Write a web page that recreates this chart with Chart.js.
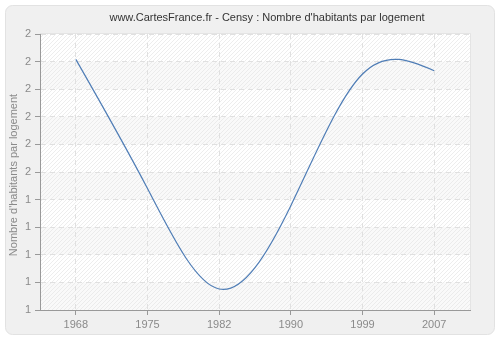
<!DOCTYPE html>
<html>
<head>
<meta charset="utf-8">
<script src="https://cdn.jsdelivr.net/npm/chart.js@4/dist/chart.umd.min.js"></script>
<style>
html,body{margin:0;padding:0;background:#fff;}
#wrap{width:500px;height:340px;}
</style>
</head>
<body>
<div id="wrap"><canvas id="c" width="500" height="340"></canvas></div>
<script>
const titleText = "www.CartesFrance.fr - Censy : Nombre d'habitants par logement";
const yAxisTitle = "Nombre d'habitants par logement";
const years = ["1968", "1975", "1982", "1990", "1999", "2007"];
const habitantsParLogement = [1.908, 1.440, 1.076, 1.378, 1.855, 1.867];
const yMin = 1, yMax = 2, yStep = 0.1;

const FONT = '"Liberation Sans", Arial, sans-serif';

const bgPlugin = {
  id: 'bg',
  beforeDraw(chart) {
    const ctx = chart.ctx, a = chart.chartArea;
    ctx.save();
    ctx.fillStyle = '#ffffff';
    ctx.fillRect(0, 0, chart.width, chart.height);
    const x = 5.5, y = 5.5, w = 489, h = 329, r = 7;
    ctx.beginPath();
    ctx.moveTo(x + r, y);
    ctx.arcTo(x + w, y, x + w, y + h, r);
    ctx.arcTo(x + w, y + h, x, y + h, r);
    ctx.arcTo(x, y + h, x, y, r);
    ctx.arcTo(x, y, x + w, y, r);
    ctx.closePath();
    ctx.fillStyle = '#f0f0f0';
    ctx.fill();
    ctx.strokeStyle = '#e2e2e2';
    ctx.lineWidth = 1;
    ctx.stroke();
    ctx.fillStyle = '#ffffff';
    ctx.fillRect(a.left, a.top, a.right - a.left, a.bottom - a.top);
    const ys = chart.scales.y;
    for (let i = 0; i < 10; i++) {
      if (i % 2 === 1) {
        const t = ys.getPixelForValue(yMax - i * yStep);
        const b = ys.getPixelForValue(yMax - (i + 1) * yStep);
        ctx.fillStyle = '#f9f9f9';
        ctx.fillRect(a.left, t, a.right - a.left, b - t);
      }
    }
    ctx.beginPath();
    ctx.rect(a.left, a.top, a.right - a.left, a.bottom - a.top);
    ctx.clip();
    ctx.strokeStyle = 'rgba(225,225,225,0.6)';
    ctx.lineWidth = 1;
    ctx.beginPath();
    const H = a.bottom - a.top;
    for (let s = a.left - H; s < a.right + H; s += 4) {
      ctx.moveTo(s, a.bottom);
      ctx.lineTo(s + H, a.top);
    }
    ctx.stroke();
    ctx.restore();
    ctx.save();
    ctx.strokeStyle = '#e4e4e4';
    ctx.beginPath();
    ctx.moveTo(a.left, a.top - 0.5);
    ctx.lineTo(a.right + 0.5, a.top - 0.5);
    ctx.lineTo(a.right + 0.5, a.bottom);
    ctx.stroke();
    ctx.restore();
  },
  afterDraw(chart) {
    const ctx = chart.ctx;
    ctx.save();
    ctx.fillStyle = '#333333';
    ctx.font = '11px ' + FONT;
    ctx.textAlign = 'center';
    ctx.textBaseline = 'middle';
    ctx.fillText(titleText, 267, 18);
    ctx.translate(14, 175);
    ctx.rotate(-Math.PI / 2);
    ctx.fillStyle = '#8a8a8a';
    ctx.font = '11px ' + FONT;
    ctx.fillText(yAxisTitle, 0, 0);
    ctx.restore();
  }
};

// Natural cubic spline control points, computed from the library's pixel positions
const splinePlugin = {
  id: 'naturalSpline',
  beforeDatasetDraw(chart, args) {
    const meta = args.meta;
    const line = meta.dataset;
    if (line.updateControlPoints) line.updateControlPoints(chart.chartArea, 'x');
    const pts = meta.data;
    const n = pts.length;
    if (n < 3) return;
    const xs = pts.map(p => p.x), ys = pts.map(p => p.y);
    const h = [];
    for (let i = 0; i < n - 1; i++) h.push(xs[i + 1] - xs[i]);
    const A = [], B = [], C = [], D = [];
    for (let i = 1; i < n - 1; i++) {
      A.push(h[i - 1]);
      B.push(2 * (h[i - 1] + h[i]));
      C.push(h[i]);
      D.push(6 * ((ys[i + 1] - ys[i]) / h[i] - (ys[i] - ys[i - 1]) / h[i - 1]));
    }
    const m = B.length;
    for (let i = 1; i < m; i++) {
      const w = A[i] / B[i - 1];
      B[i] -= w * C[i - 1];
      D[i] -= w * D[i - 1];
    }
    const Mi = new Array(m);
    Mi[m - 1] = D[m - 1] / B[m - 1];
    for (let i = m - 2; i >= 0; i--) Mi[i] = (D[i] - C[i] * Mi[i + 1]) / B[i];
    const M = [0, ...Mi, 0];
    const d = [];
    for (let i = 0; i < n - 1; i++) {
      d.push((ys[i + 1] - ys[i]) / h[i] - h[i] * (2 * M[i] + M[i + 1]) / 6);
    }
    d.push((ys[n - 1] - ys[n - 2]) / h[n - 2] + h[n - 2] * (M[n - 2] + 2 * M[n - 1]) / 6);
    for (let i = 0; i < n; i++) {
      const p = pts[i];
      const hp = i > 0 ? h[i - 1] : h[0];
      const hn = i < n - 1 ? h[i] : h[n - 2];
      p.cp1x = xs[i] - hp / 3;
      p.cp1y = ys[i] - d[i] * hp / 3;
      p.cp2x = xs[i] + hn / 3;
      p.cp2y = ys[i] + d[i] * hn / 3;
    }
  }
};

new Chart(document.getElementById('c'), {
  type: 'line',
  data: {
    labels: years,
    datasets: [{
      data: habitantsParLogement,
      borderColor: '#4f7db6',
      borderWidth: 1.2,
      pointRadius: 0,
      fill: false,
      tension: 0.4,
      clip: false
    }]
  },
  options: {
    responsive: false,
    animation: false,
    events: [],
    layout: { padding: { left: 0, right: 30, top: 34, bottom: 0 } },
    plugins: { legend: { display: false }, tooltip: { enabled: false }, title: { display: false } },
    scales: {
      x: {
        type: 'category',
        offset: true,
        grid: {
          display: true,
          offset: false,
          color: '#e0e0e0',
          lineWidth: 1,
          tickLength: 5,
          tickColor: '#999999',
          drawOnChartArea: true
        },
        border: { display: true, color: '#999999', dash: [5, 4], width: 1 },
        ticks: {
          color: '#8a8a8a',
          font: { family: FONT, size: 11 },
          padding: 3,
          maxRotation: 0
        },
        afterFit(s) { s.height = 30; }
      },
      y: {
        min: yMin,
        max: yMax,
        grid: {
          color: '#e0e0e0',
          tickLength: 5,
          tickColor: '#999999'
        },
        border: { display: true, color: '#999999', dash: [5, 4], width: 1 },
        ticks: {
          stepSize: yStep,
          color: '#8a8a8a',
          font: { family: FONT, size: 11 },
          padding: 4,
          callback: v => String(Math.round(v))
        },
        afterFit(s) { s.width = 40; }
      }
    }
  },
  plugins: [bgPlugin, splinePlugin]
});
</script>
</body>
</html>
